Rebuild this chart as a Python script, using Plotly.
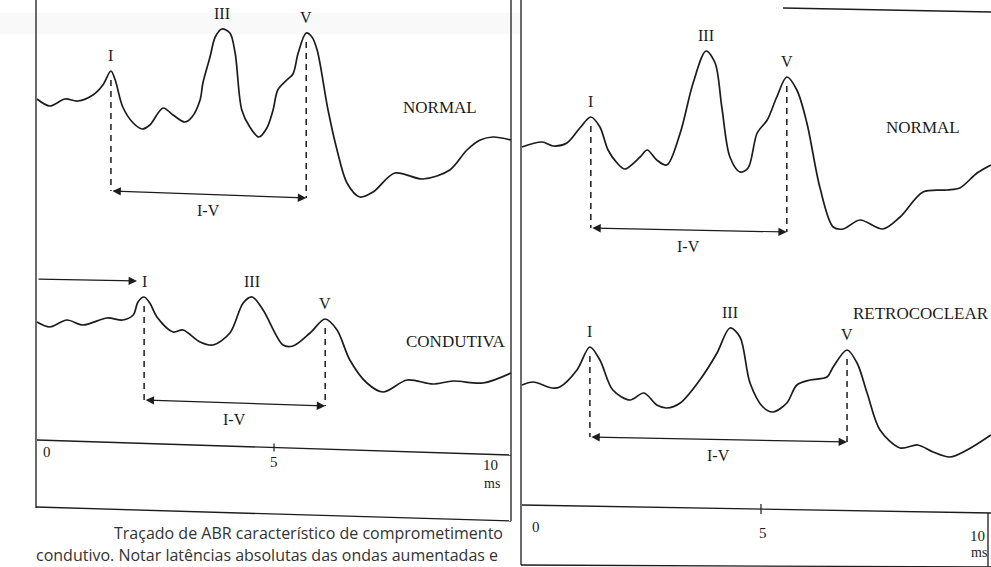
import numpy as np
import plotly.graph_objects as go

# ---------------- data (time in ms, amplitude in arbitrary units, + = up) ----------------
normal_l_t = [0.00, 0.27, 0.59, 0.86, 1.18, 1.39, 1.56, 1.65, 1.81, 2.03,
              2.22, 2.38, 2.66, 2.87, 3.12, 3.27, 3.44, 3.50, 3.65, 3.76,
              3.90, 4.07, 4.18, 4.32, 4.49, 4.68, 4.85, 4.98, 5.08, 5.27,
              5.40, 5.51, 5.68, 5.80, 5.91, 6.14, 6.33, 6.54, 6.81, 7.09,
              7.55, 8.14, 8.71, 9.07, 9.35, 9.62, 10.0]
normal_l_amp = [1, -6, 1, -1, 5, 15, 29, 20, -7, -23,
                -29, -25, -8, -15, -22, -17, 0, 17, 43, 63,
                71, 67, 47, -10, -27, -37, -28, -10, 10, 20,
                26, 47, 67, 63, 50, -10, -50, -83, -97, -92,
                -73, -79, -70, -50, -40, -37, -40]

condutiva_t = [0.00, 0.27, 0.63, 0.97, 1.48, 1.81, 2.03, 2.13, 2.26, 2.38,
               2.53, 2.87, 3.08, 3.44, 3.71, 4.07, 4.35, 4.54, 4.77, 5.19,
               5.40, 5.76, 6.08, 6.33, 6.60, 6.96, 7.30, 7.81, 8.35, 8.78,
               9.41, 10.0]
condutiva_amp = [0, -5, 2, -3, 4, 2, 7, 20, 25, 19,
                 5, -10, -8, -20, -23, -11, 19, 25, 12, -23,
                 -24, -11, 3, -8, -38, -61, -70, -58, -62, -59,
                 -61, -51]

normal_r_t = [0.00, 0.42, 0.65, 0.94, 1.21, 1.44, 1.63, 1.80, 1.99, 2.15,
              2.47, 2.62, 2.82, 3.03, 3.31, 3.58, 3.85, 4.04, 4.18, 4.35,
              4.56, 4.73, 4.92, 5.13, 5.33, 5.54, 5.75, 5.96, 6.23, 6.51,
              6.72, 7.07, 7.55, 7.91, 8.39, 8.89, 9.16, 9.52, 9.81]
normal_r_amp = [0, 5, 1, 4, 19, 30, 20, -3, -16, -22,
                -10, -3, -13, -18, 14, 64, 96, 84, 40, -10,
                -25, -21, 14, 27, 50, 70, 57, 24, -40, -80,
                -82, -73, -82, -70, -45, -43, -41, -26, -18]

retro_t = [0.00, 0.23, 0.63, 0.79, 1.15, 1.42, 1.63, 1.90, 2.26, 2.55,
           2.82, 3.03, 3.31, 3.72, 4.08, 4.35, 4.56, 4.77, 5.04, 5.25,
           5.54, 5.75, 6.03, 6.38, 6.51, 6.80, 7.01, 7.22, 7.49, 7.91,
           8.28, 8.60, 8.95, 9.31, 9.81]
retro_amp = [0, 3, -3, -2, 15, 38, 25, -5, -15, -8,
             -20, -23, -18, 5, 32, 57, 48, 2, -22, -27,
             -18, 0, 5, 8, 18, 35, 22, -8, -45, -63,
             -60, -67, -72, -65, -50]

# peak latencies (ms) for waves I, III, V
normal_l_peaks = [1.56, 3.90, 5.68]
condutiva_peaks = [2.26, 4.54, 6.08]
normal_r_peaks = [1.44, 3.85, 5.54]
retro_peaks = [1.42, 4.35, 6.80]
peak_labels = ["I", "III", "V"]
interval_label = "I-V"
trace_names = ["NORMAL", "CONDUTIVA", "NORMAL", "RETROCOCLEAR"]
tick_vals = [0, 5, 10]
tick_text = ["0", "5", "10"]
time_unit = "ms"
caption_lines = ["Traçado de ABR característico de comprometimento",
                 "condutivo. Notar latências absolutas das ondas aumentadas e"]

# ---------------- layout / positions ----------------
W, H = 991, 567
INK = "#1c1c1c"
SERIF = "Liberation Serif, Times New Roman, serif"
SANS = "Open Sans, Noto Sans, sans-serif"


def pxx(x):
    return x / W


def pyy(y):
    return 1 - y / H


split = 516
# left panel: 0 ms at px 37, 47.4 px/ms ; right panel: 0 ms at px 522, 47.8 px/ms
left_range = [(0 - 37) / 47.4, (split - 37) / 47.4]
right_range = [(split - 522) / 47.8, (W - 522) / 47.8]

waves = [
    dict(t=normal_l_t, a=normal_l_amp, peaks=normal_l_peaks, xr="x", base=-100,
         arrow_y=(-191, -198), name=trace_names[0], name_x=8.50, name_y=-107, name_anchor="center"),
    dict(t=condutiva_t, a=condutiva_amp, peaks=condutiva_peaks, xr="x", base=-322,
         arrow_y=(-400, -406), name=trace_names[1], name_x=9.93, name_y=-341, name_anchor="right"),
    dict(t=normal_r_t, a=normal_r_amp, peaks=normal_r_peaks, xr="x2", base=-147,
         arrow_y=(-228, -232), name=trace_names[2], name_x=8.39, name_y=-127, name_anchor="center"),
    dict(t=retro_t, a=retro_amp, peaks=retro_peaks, xr="x2", base=-385,
         arrow_y=(-437, -442), name=trace_names[3], name_x=6.88, name_y=-313, name_anchor="left"),
]

fig = go.Figure()
shapes = []
annotations = []

for w in waves:
    t = np.array(w["t"], dtype=float)
    y = w["base"] + np.array(w["a"], dtype=float)
    fig.add_trace(go.Scatter(
        x=t, y=y, mode="lines", xaxis=w["xr"], yaxis="y",
        line=dict(color=INK, width=1.7, shape="spline", smoothing=0.9),
        hoverinfo="skip", showlegend=False))
    yref = "y"
    for lab, lat in zip(peak_labels, w["peaks"]):
        pk = w["base"] + float(np.interp(lat, t, w["a"]))
        annotations.append(dict(x=lat, y=pk, xref=w["xr"], yref=yref, text=lab,
                                showarrow=False, yanchor="bottom", yshift=5,
                                font=dict(family=SERIF, size=16, color=INK)))
    # dashed drop lines from I and V
    lat_i, lat_v = w["peaks"][0], w["peaks"][2]
    for lat, ay in ((lat_i, w["arrow_y"][0]), (lat_v, w["arrow_y"][1])):
        pk = w["base"] + float(np.interp(lat, t, w["a"]))
        shapes.append(dict(type="line", xref=w["xr"], yref=yref, x0=lat, x1=lat,
                           y0=pk - 9, y1=ay,
                           line=dict(color=INK, width=1.5, dash="6px,5px")))
    # I-V interval arrow (double headed)
    annotations.append(dict(x=lat_v, y=w["arrow_y"][1], ax=lat_i, ay=w["arrow_y"][0],
                            xref=w["xr"], yref=yref, axref=w["xr"], ayref=yref,
                            text="", showarrow=True, arrowhead=2, startarrowhead=2,
                            arrowside="end+start", arrowsize=1.4, arrowwidth=1.2,
                            arrowcolor=INK, standoff=0, startstandoff=0))
    mid_y = (w["arrow_y"][0] + w["arrow_y"][1]) / 2
    annotations.append(dict(x=(lat_i + lat_v) / 2, y=mid_y - 16, xref=w["xr"], yref=yref,
                            text=interval_label, showarrow=False,
                            font=dict(family=SERIF, size=16, color=INK)))
    # trace name
    annotations.append(dict(x=w["name_x"], y=w["name_y"], xref=w["xr"], yref=yref,
                            text=w["name"], showarrow=False, xanchor=w["name_anchor"],
                            yanchor="middle",
                            font=dict(family=SERIF, size=17, color=INK)))

# absolute latency arrow for conductive wave I
annotations.append(dict(x=condutiva_peaks[0] - 0.15, y=-281, ax=0, ay=-279,
                        xref="x", yref="y", axref="x", ayref="y", text="",
                        showarrow=True, arrowhead=2, arrowsize=1.4, arrowwidth=1.2,
                        arrowcolor=INK, standoff=0))

# time axes
axes = [
    dict(xr="x", t_end=10.0, y0=-440, y1=-455, tick_h=4,
         lab=[(0.08, -452, "left"), (5.0, -462, "center"), (9.76, -465, "right")],
         unit=(9.6, -483)),
    dict(xr="x2", t_end=right_range[1], y0=-505, y1=-513, tick_h=5,
         lab=[(0.16, -527, "left"), (5.04, -533, "center"), (9.72, -536, "right")],
         unit=(9.56, -552)),
]
for ax_ in axes:
    shapes.append(dict(type="line", xref=ax_["xr"], yref="y", x0=0, x1=ax_["t_end"],
                       y0=ax_["y0"], y1=ax_["y1"], line=dict(color=INK, width=1.4)))
    ymid = ax_["y0"] + (ax_["y1"] - ax_["y0"]) * 5 / ax_["t_end"]
    shapes.append(dict(type="line", xref=ax_["xr"], yref="y", x0=tick_vals[1], x1=tick_vals[1],
                       y0=ymid + ax_["tick_h"], y1=ymid - ax_["tick_h"],
                       line=dict(color=INK, width=1.2)))
    for (xx, yy, anc), txt in zip(ax_["lab"], tick_text):
        annotations.append(dict(x=xx, y=yy, xref=ax_["xr"], yref="y", text=txt,
                                showarrow=False, xanchor=anc, yanchor="middle",
                                font=dict(family=SERIF, size=15, color=INK)))
    annotations.append(dict(x=ax_["unit"][0], y=ax_["unit"][1], xref=ax_["xr"], yref="y",
                            text=time_unit, showarrow=False, yanchor="middle",
                            font=dict(family=SERIF, size=14, color=INK)))

# frames (page decoration)
frame_segments = [
    (36, 0, 36, 508), (511, 0, 511, 521), (36, 507, 511, 521),
    (521, 0, 521, 565), (521, 565, 991, 567), (988, 513, 988, 567),
    (783, 8, 991, 12),
]
for x0, y0, x1, y1 in frame_segments:
    shapes.append(dict(type="line", xref="paper", yref="paper",
                       x0=pxx(x0), y0=pyy(y0), x1=pxx(x1), y1=pyy(y1),
                       line=dict(color=INK, width=1.3)))
# faint scanner smudge band at top left
shapes.insert(0, dict(type="rect", xref="paper", yref="paper", x0=0, x1=pxx(520),
                      y0=pyy(34), y1=pyy(13), fillcolor="rgba(170,170,170,0.07)",
                      line=dict(width=0), layer="below"))

# caption
annotations.append(dict(x=pxx(505), y=pyy(533), xref="paper", yref="paper",
                        text=caption_lines[0], showarrow=False, xanchor="right",
                        yanchor="middle",
                        font=dict(family=SANS, size=16, color="#333333")))
annotations.append(dict(x=pxx(34), y=pyy(555), xref="paper", yref="paper",
                        text=caption_lines[1], showarrow=False, xanchor="left",
                        yanchor="middle",
                        font=dict(family=SANS, size=16, color="#333333")))

fig.update_layout(
    width=W, height=H, margin=dict(l=0, r=0, t=0, b=0),
    paper_bgcolor="white", plot_bgcolor="rgba(0,0,0,0)",
    showlegend=False,
    xaxis=dict(domain=[0, split / W], range=left_range, visible=False, anchor="y"),
    xaxis2=dict(domain=[split / W, 1], range=right_range, visible=False, anchor="y"),
    yaxis=dict(domain=[0, 1], range=[-H, 0], visible=False, anchor="x"),
    shapes=shapes, annotations=annotations,
)

fig.write_html("out.html")
